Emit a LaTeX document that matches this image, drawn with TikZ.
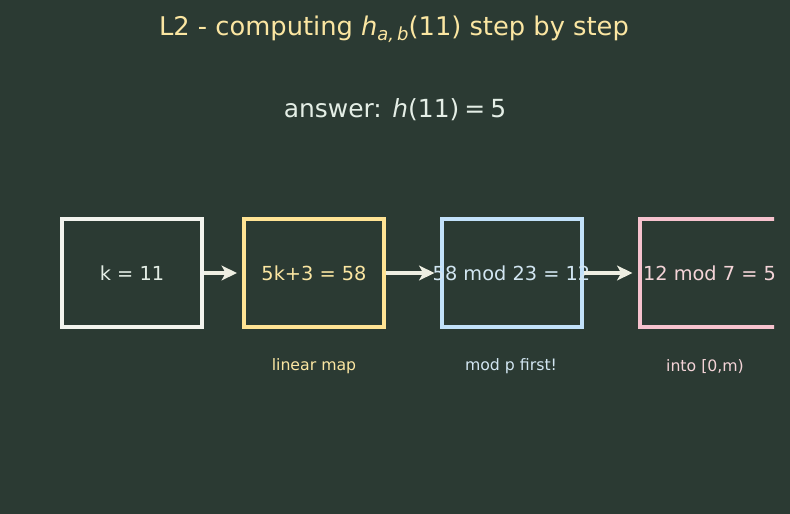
\documentclass[tikz,border=0pt]{standalone}
\usepackage{fontspec}
\setmainfont{DejaVu Sans}[ItalicFont={DejaVu Sans Oblique}]
\usetikzlibrary{arrows.meta, positioning}
\definecolor{bgdark}{HTML}{2B3A33}
\definecolor{cwhite}{HTML}{F2F3EE}
\definecolor{cyellow}{HTML}{FFE394}
\definecolor{cblue}{HTML}{C2E1FA}
\definecolor{cpink}{HTML}{F6C2CE}
\definecolor{twhite}{HTML}{E4EEE6}
\definecolor{tyellow}{HTML}{FBE6A2}
\definecolor{tblue}{HTML}{D2E6F2}
\definecolor{tpink}{HTML}{F4D4D8}
\definecolor{arrowgrey}{HTML}{EEEEE2}

\begin{document}
\begin{tikzpicture}[x=0.75pt, y=-0.75pt, >={Stealth[length=11.5pt, width=11pt, inset=3pt]},
  stage/.style={rectangle, draw, line width=3pt, minimum width=105pt,
    minimum height=81pt, inner sep=0pt},
  stagetext/.style={font=\fontsize{14.5}{16}\selectfont, inner sep=0pt},
  note/.style={font=\fontsize{11.8}{13}\selectfont, inner sep=0pt},
  flow/.style={->, line width=3pt, draw=arrowgrey, shorten >=3.75pt}]
  \fill[bgdark] (0,0) rectangle (790,514);
  \useasboundingbox (0,0) rectangle (790,514);

  \node[font=\fontsize{19.3}{22}\selectfont, text=tyellow] (title) at (394,29)
    {L2 - computing \textit{h}\raisebox{-0.35ex}{\fontsize{13.5}{13}\selectfont\itshape a,\,b}(11) step by step};
  \node[font=\fontsize{18.7}{22}\selectfont, text=twhite] (answer) at (395,110)
    {answer: \textit{h}(11)\hspace{0.2em}=\hspace{0.2em}5};

  \begin{scope}
    \clip (0,0) rectangle (774,514);
    \node[stage, draw=cwhite] (key) at (132,273) {};
    \node[stage, draw=cyellow] (linear) at (314,273) {};
    \node[stage, draw=cblue] (modp) at (511.5,273) {};
    \node[stage, draw=cpink] (modm) at (709.5,273) {};

    \node[stagetext, text=twhite] at (key) {k = 11};
    \node[stagetext, text=tyellow] at (linear) {5k+3 = 58};
    \node[stagetext, text=tblue] at (modp) {58 mod 23 = 12};
    \node[stagetext, text=tpink] at (modm) {12 mod 7 = 5};
  \end{scope}

  \node[note, text=tyellow] (linnote) at (314,366) {linear map};
  \node[note, text=tblue] (modpnote) at (511,366) {mod p first!};
  \node[note, text=tpink] (modmnote) at (705,367) {into [0,m)};

  \draw[flow] (key) -- (linear);
  \draw[flow] (linear) -- (modp);
  \draw[flow] (modp) -- (modm);
\end{tikzpicture}
\end{document}
